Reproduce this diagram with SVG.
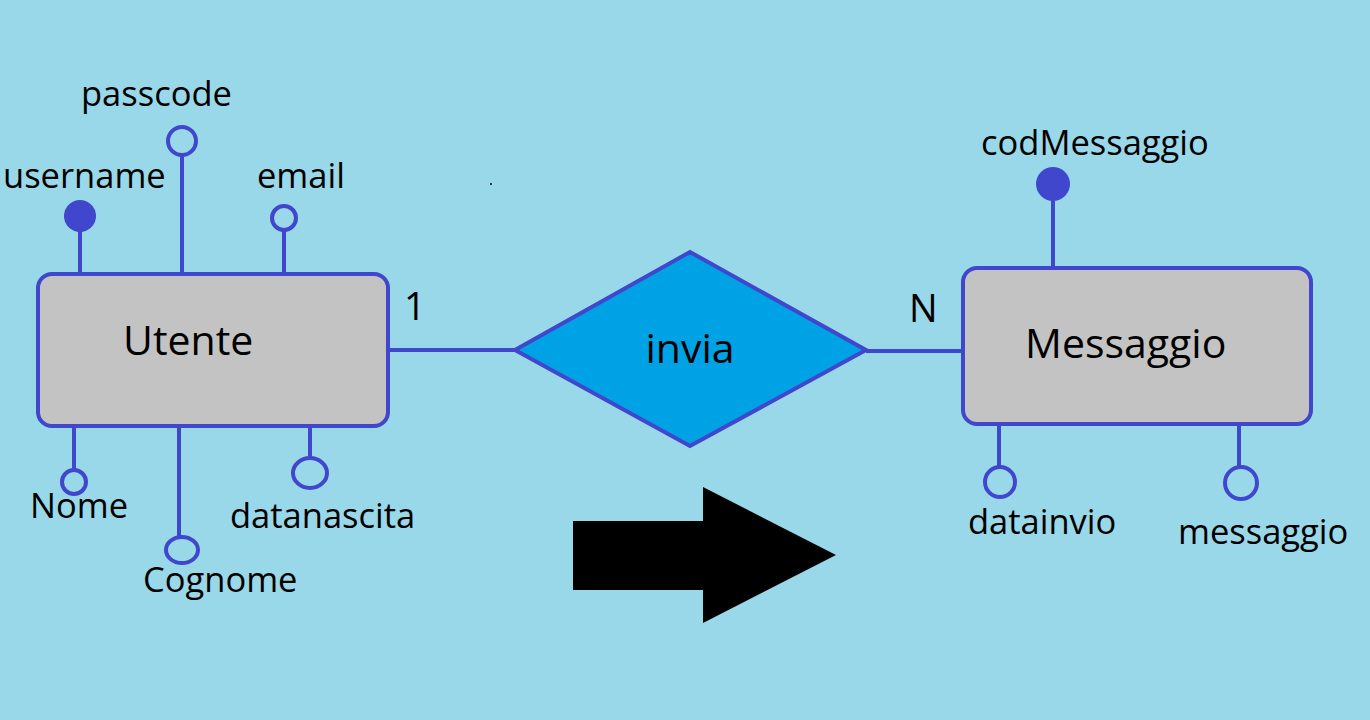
<svg xmlns="http://www.w3.org/2000/svg" width="1370" height="720" viewBox="0 0 1370 720">
<style>
.ln{stroke:#4047cc;stroke-width:4;fill:none}
.ent{fill:#c3c3c3;stroke:#4047cc;stroke-width:4}
.rel{fill:#00a2e6;stroke:#4047cc;stroke-width:4}
.oa{fill:none;stroke:#4047cc;stroke-width:4}
.ka{fill:#4047cc;stroke:none}
.t{font-family:"Open Sans","Noto Sans",sans-serif;font-size:34.5px;fill:#000}
.card{font-family:"Open Sans","Noto Sans",sans-serif;font-size:38px;fill:#000}
.big{font-family:"Open Sans","Noto Sans",sans-serif;font-size:41px;fill:#000}
</style>
<rect width="1370" height="720" fill="#99d8e9"/>
<rect x="490" y="183" width="2" height="2" fill="#335"/>
<g id="connectors">
<line class="ln" x1="390" y1="350" x2="516" y2="350"/>
<line class="ln" x1="866" y1="351" x2="962" y2="351"/>
<text class="card" x="404" y="320">1</text>
<text class="card" x="909" y="322">N</text>
</g>
<g id="attr-username">
<line class="ln" x1="80" y1="216" x2="80" y2="272"/>
<circle class="ka" cx="80" cy="216" r="16"/>
<text class="t" x="3" y="188">username</text>
</g>
<g id="attr-passcode">
<line class="ln" x1="182" y1="155" x2="182" y2="272"/>
<circle class="oa" cx="182" cy="141" r="14"/>
<text class="t" x="81" y="106">passcode</text>
</g>
<g id="attr-email">
<line class="ln" x1="284" y1="230" x2="284" y2="272"/>
<circle class="oa" cx="284" cy="218" r="12"/>
<text class="t" x="257" y="188">email</text>
</g>
<g id="attr-nome">
<line class="ln" x1="74" y1="428" x2="74" y2="470"/>
<circle class="oa" cx="74" cy="482" r="12"/>
<text class="t" x="30" y="518">Nome</text>
</g>
<g id="attr-cognome">
<line class="ln" x1="179" y1="428" x2="179" y2="537"/>
<ellipse class="oa" cx="182" cy="550" rx="16" ry="13"/>
<text class="t" x="143" y="592">Cognome</text>
</g>
<g id="attr-datanascita">
<line class="ln" x1="310" y1="428" x2="310" y2="458"/>
<ellipse class="oa" cx="310" cy="473" rx="17" ry="15"/>
<text class="t" x="230" y="528">datanascita</text>
</g>
<g id="utente">
<rect class="ent" x="38" y="274" width="350" height="152" rx="14"/>
<text class="big" x="123" y="355">Utente</text>
</g>
<g id="invia">
<polygon class="rel" points="515,350 690,252 866,350 690,446"/>
<text class="big" x="690" y="363" text-anchor="middle">invia</text>
</g>
<g id="attr-codMessaggio">
<line class="ln" x1="1053" y1="184" x2="1053" y2="266"/>
<circle class="ka" cx="1053" cy="184" r="17"/>
<text class="t" x="981" y="155">codMessaggio</text>
</g>
<g id="attr-datainvio">
<line class="ln" x1="999" y1="426" x2="999" y2="467"/>
<circle class="oa" cx="1000" cy="482" r="15"/>
<text class="t" x="968" y="534">datainvio</text>
</g>
<g id="attr-messaggio">
<line class="ln" x1="1239" y1="426" x2="1239" y2="467"/>
<circle class="oa" cx="1241" cy="483" r="16"/>
<text class="t" x="1178" y="544">messaggio</text>
</g>
<g id="messaggio">
<rect class="ent" x="963" y="268" width="348" height="156" rx="14"/>
<text class="big" x="1025" y="358">Messaggio</text>
</g>
<g id="arrow">
<polygon points="573,521 703,521 703,487 836,555 703,623 703,590 573,590" fill="#000"/>
</g>
</svg>
